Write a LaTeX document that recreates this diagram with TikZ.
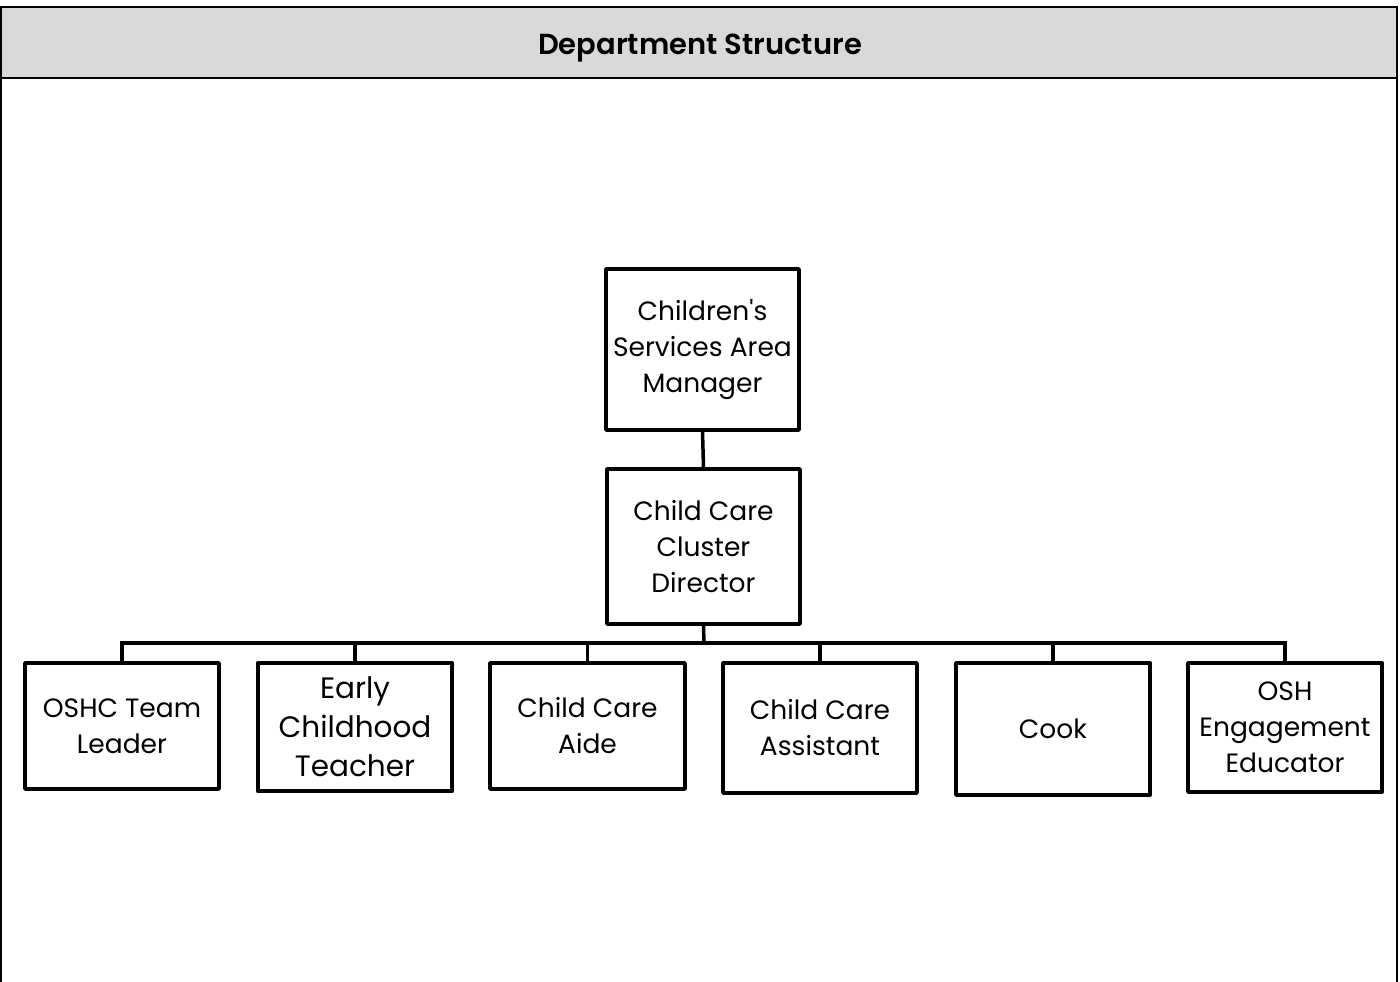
\documentclass[tikz,border=0pt]{standalone}
\usepackage{fontspec}
\setmainfont{Poppins}[Ligatures=TeXOff]
\newfontfamily\titlefont{Poppins SemiBold}[Ligatures=TeXOff]
\definecolor{hdrgrey}{HTML}{D9D9D9}
\tikzset{
  x=1pt, y=-1pt,
  orgbox/.style={draw=black, line width=3.8pt, fill=white, align=center, inner sep=0pt,
    font=\fontsize{26.5}{36}\selectfont, line join=round},
  bigtext/.style={font=\fontsize{29.5}{39}\selectfont},
  link/.style={line width=3.5pt, line cap=rect}
}
\begin{document}
\begin{tikzpicture}
\useasboundingbox (0,0) rectangle (1400,982);
% frame and header
\fill[hdrgrey] (1,7) rectangle (1397,78);
\draw[line width=2.2pt] (1,982) -- (1,7) -- (1397,7) -- (1397,982);
\draw[line width=2.2pt] (1,78) -- (1397,78);
\node[font=\titlefont\fontsize{29}{32}\selectfont] (title) at (700,48) {Department Structure};
% boxes
\node[orgbox, minimum width=193pt, minimum height=161pt] (top) at (702.5,349.5) {Children's\\Services Area\\Manager};
\node[orgbox, minimum width=193pt, minimum height=155pt] (dir) at (703.5,546.5) {Child Care\\Cluster\\Director};
\node[orgbox, minimum width=194pt, minimum height=126pt] (c1) at (122,726) {OSHC Team\\Leader};
\node[orgbox, bigtext, line width=4.6pt, minimum width=194pt, minimum height=128pt] (c2) at (355,727) {Early\\Childhood\\Teacher};
\node[orgbox, minimum width=195pt, minimum height=126pt] (c3) at (587.5,726) {Child Care\\Aide};
\node[orgbox, minimum width=194pt, minimum height=130pt] (c4) at (820,728) {Child Care\\Assistant};
\node[orgbox, minimum width=194pt, minimum height=132pt] (c5) at (1053,729) {Cook};
\node[orgbox, minimum width=194pt, minimum height=129pt] (c6) at (1285,727.5) {OSH\\Engagement\\Educator};
% connectors
\coordinate (bus) at (704,643);
\draw[link] (top.south) -- (dir.north);
\draw[link] (dir.south) -- (bus);
\foreach \c in {c1,c2,c3,c4,c5,c6} {
  \draw[link] (\c.north) |- (bus);
}
\end{tikzpicture}
\end{document}
